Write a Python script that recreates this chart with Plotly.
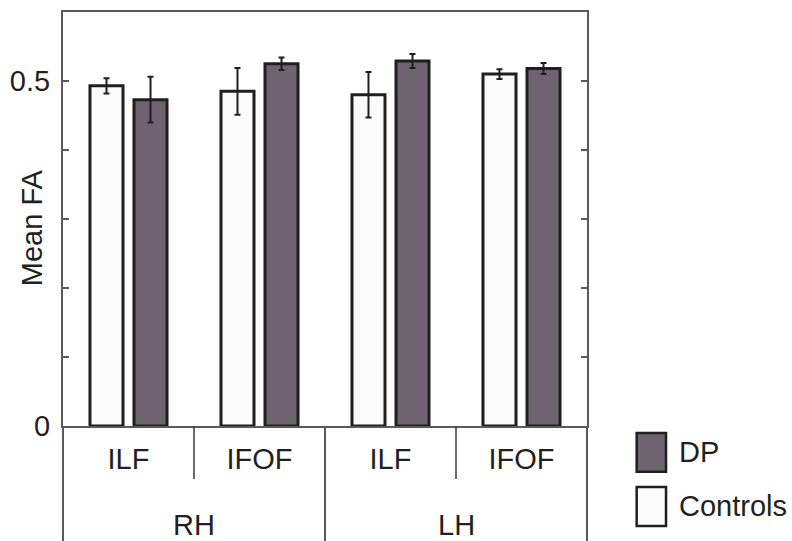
import plotly.graph_objects as go

# Fibre tracts per hemisphere
hemisphere = ["RH", "RH", "LH", "LH"]
tract = ["ILF", "IFOF", "ILF", "IFOF"]

# Mean fractional anisotropy and error (SEM)
controls_mean = [0.493, 0.485, 0.480, 0.510]
controls_err = [0.011, 0.034, 0.033, 0.007]
dp_mean = [0.473, 0.525, 0.529, 0.518]
dp_err = [0.033, 0.009, 0.010, 0.008]

y_ticks = [0, 0.5]
y_ticktext = ["0", "0.5"]

FONT = "Liberation Sans, Arial, Helvetica, sans-serif"
FS = 29
INK = "#231f20"
AXIS = "#5a5a5a"
DP_FILL = "#6f6371"
CTRL_FILL = "#fbfbfb"
OUTLINE = "#1f1f1f"

x = list(range(len(tract)))

fig = go.Figure()
fig.add_trace(go.Bar(
    x=x, y=controls_mean, name="Controls",
    marker=dict(color=CTRL_FILL, line=dict(color=OUTLINE, width=3)),
    error_y=dict(type="data", array=controls_err, color=OUTLINE, thickness=2, width=3),
))
fig.add_trace(go.Bar(
    x=x, y=dp_mean, name="DP",
    marker=dict(color=DP_FILL, line=dict(color=OUTLINE, width=3)),
    error_y=dict(type="data", array=dp_err, color=OUTLINE, thickness=2, width=3),
))

fig.update_layout(
    width=792, height=541,
    margin=dict(l=63, r=205, t=12, b=115, autoexpand=False),
    paper_bgcolor="white", plot_bgcolor="white",
    barmode="group", bargap=0.328, bargroupgap=0.25,
    showlegend=False,
    font=dict(family=FONT, size=FS, color=INK),
)

fig.update_xaxes(
    automargin=False,
    range=[-0.5, len(tract) - 0.5],
    tickmode="array", tickvals=x, ticktext=tract,
    ticks="", showgrid=False, zeroline=False,
    showline=True, linecolor=AXIS, linewidth=2, mirror=True,
    ticklabelstandoff=6,
    tickfont=dict(family=FONT, size=FS, color=INK),
)
fig.update_yaxes(
    automargin=False,
    range=[0, 0.6],
    tickmode="array", tickvals=y_ticks, ticktext=y_ticktext,
    ticks="inside", ticklen=6, tickwidth=1.5, tickcolor=AXIS,
    minor=dict(dtick=0.1, ticks="inside", ticklen=6, tickwidth=1.5, tickcolor=AXIS),
    showgrid=False, zeroline=False,
    showline=True, linecolor=AXIS, linewidth=2, mirror="ticks",
    ticklabelstandoff=5,
    tickfont=dict(family=FONT, size=FS, color=INK),
)

# Y axis title
fig.add_annotation(
    text="Mean FA", xref="paper", yref="paper", x=-0.059, y=0.478,
    textangle=-90, showarrow=False, xanchor="center", yanchor="middle",
    font=dict(family=FONT, size=FS, color=INK),
)

# Category table below the axis: outer frame and hemisphere divider
for xp in [0, 0.5, 1]:
    fig.add_shape(type="line", xref="paper", yref="paper",
                  x0=xp, x1=xp, y0=0, y1=-0.32,
                  line=dict(color=AXIS, width=2))
# Tract dividers inside each hemisphere
for xp in [0.25, 0.75]:
    fig.add_shape(type="line", xref="paper", yref="paper",
                  x0=xp, x1=xp, y0=0, y1=-0.128,
                  line=dict(color="#3a3a3a", width=1.5))

# Hemisphere labels
for i, h in enumerate(["RH", "LH"]):
    fig.add_annotation(text=h, xref="paper", yref="paper",
                       x=0.25 + 0.5 * i, y=-0.24, showarrow=False,
                       xanchor="center", yanchor="middle",
                       font=dict(family=FONT, size=FS, color=INK))

# Legend drawn as boxes with labels
legend_items = [("DP", DP_FILL, -0.0169, -0.1104), ("Controls", CTRL_FILL, -0.1473, -0.2415)]
for label, fill, y0, y1 in legend_items:
    fig.add_shape(type="rect", xref="paper", yref="paper",
                  x0=1.0948, x1=1.1508, y0=y0, y1=y1,
                  fillcolor=fill, line=dict(color=OUTLINE, width=2.5))
    fig.add_annotation(text=label, xref="paper", yref="paper",
                       x=1.172, y=(y0 + y1) / 2, showarrow=False,
                       xanchor="left", yanchor="middle",
                       font=dict(family=FONT, size=FS, color=INK))

fig.write_html("out.html")
